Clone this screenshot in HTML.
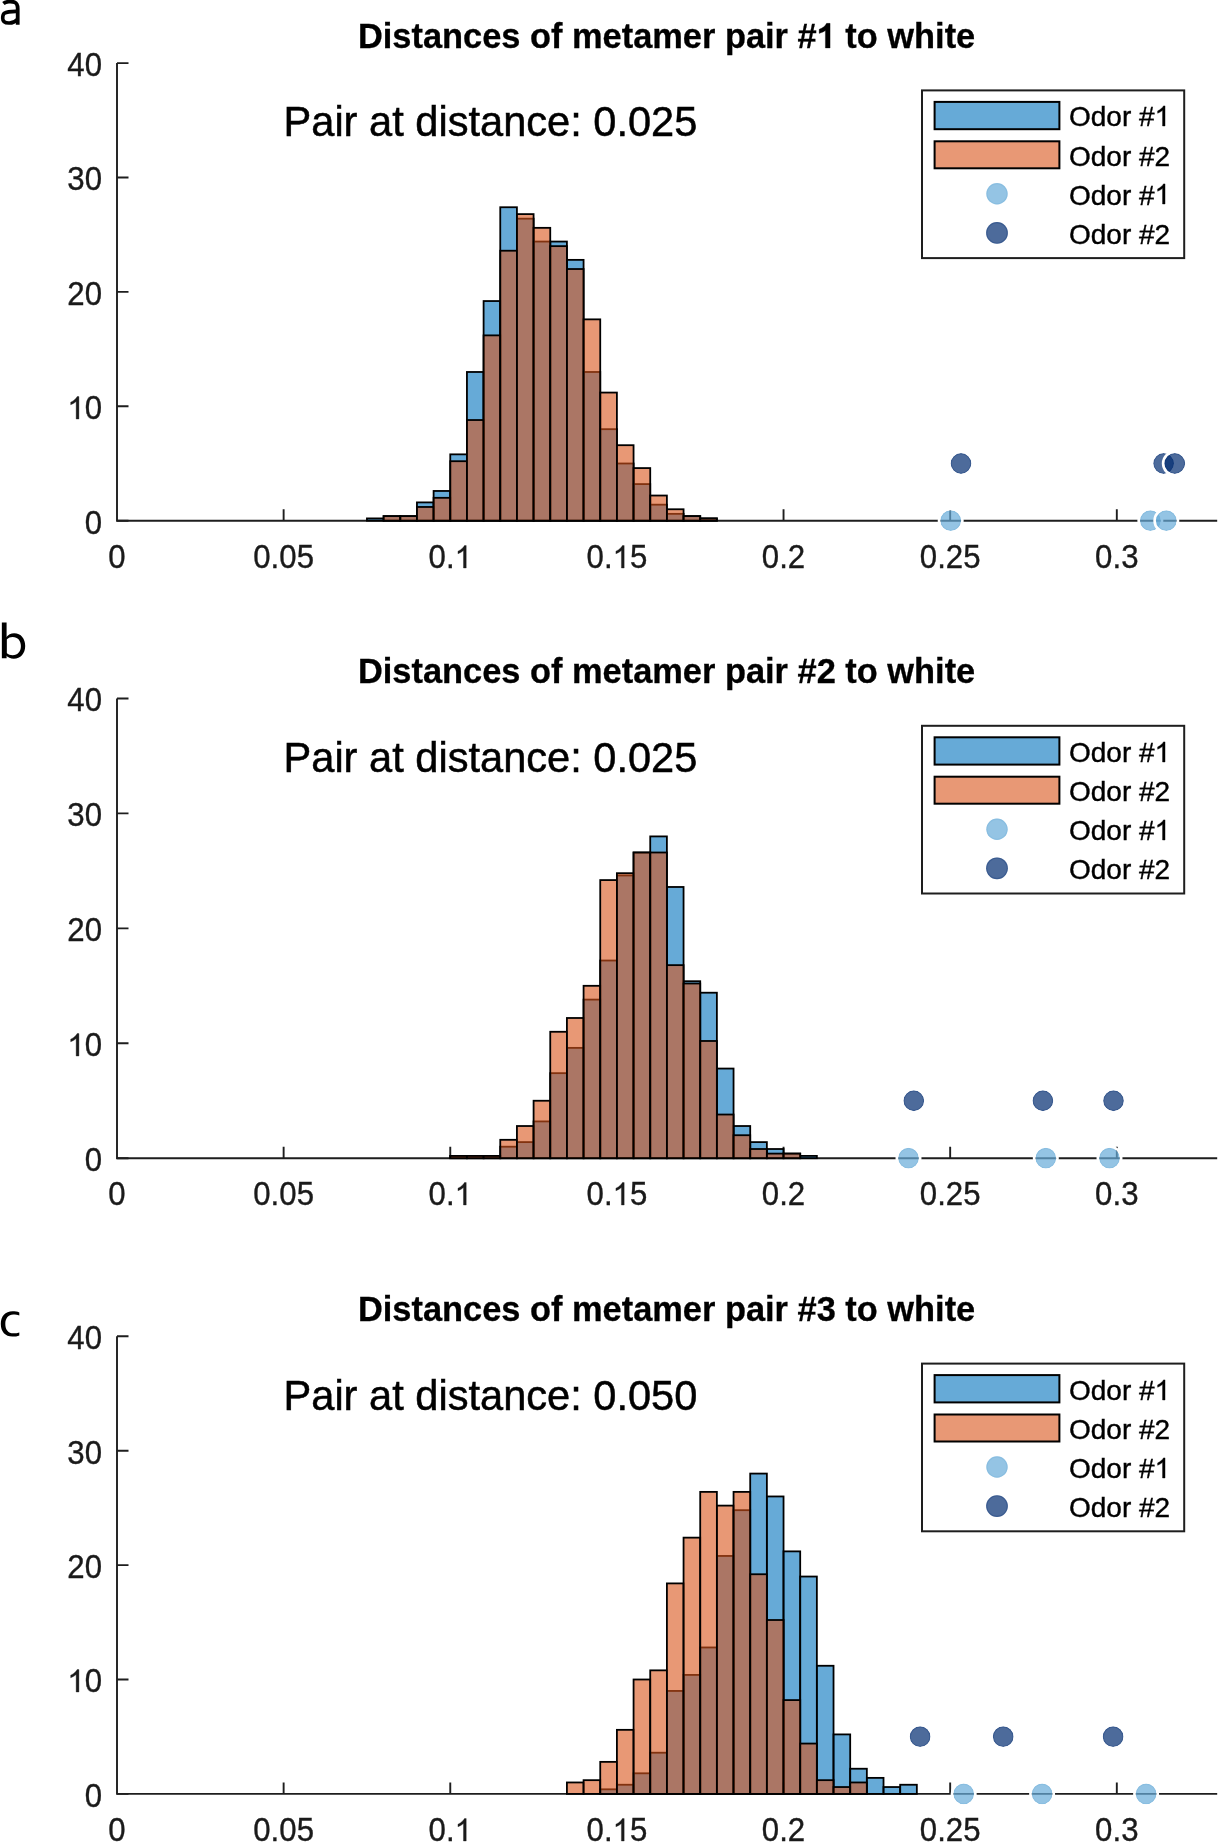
<!DOCTYPE html>
<html><head><meta charset="utf-8"><style>
html,body{margin:0;padding:0;background:#fff;}
svg{display:block;will-change:transform;}
text{font-family:"Liberation Sans",sans-serif;}
.tk{font-size:31.2px;fill:#1a1a1a;stroke:#1a1a1a;stroke-width:0.35px;}
.ti{font-size:34.4px;font-weight:bold;fill:#000;stroke:#000;stroke-width:0.3px;}
.pr{font-size:41.6px;fill:#000;stroke:#000;stroke-width:0.5px;}
.lg{font-size:28px;fill:#000;stroke:#000;stroke-width:0.4px;}
.pl{font-size:47px;fill:#000;}
</style></head><body>
<svg width="1218" height="1842" viewBox="0 0 1218 1842">
<rect width="1218" height="1842" fill="#fff"/>
<path d="M117 63.1V520.7H1217.2" fill="none" stroke="#1e1e1e" stroke-width="1.9"/>
<path d="M117 520.7h11.5 M117 406.3h11.5 M117 291.9h11.5 M117 177.5h11.5 M117 63.1h11.5 M283.63 520.7v-11.5 M450.27 520.7v-11.5 M616.9 520.7v-11.5 M783.54 520.7v-11.5 M950.17 520.7v-11.5 M1116.81 520.7v-11.5" fill="none" stroke="#1e1e1e" stroke-width="1.9"/>
<text x="102" y="533.6" text-anchor="end" class="tk" transform="matrix(1 0 0 1.04 0 -21.34)">0</text>
<text x="102" y="419.2" text-anchor="end" class="tk" transform="matrix(1 0 0 1.04 0 -16.77)"> 0</text>
<text x="102" y="304.8" text-anchor="end" class="tk" transform="matrix(1 0 0 1.04 0 -12.19)">20</text>
<text x="102" y="190.4" text-anchor="end" class="tk" transform="matrix(1 0 0 1.04 0 -7.62)">30</text>
<text x="102" y="76" text-anchor="end" class="tk" transform="matrix(1 0 0 1.04 0 -3.04)">40</text>
<text x="117" y="567.9" text-anchor="middle" class="tk" transform="matrix(1 0 0 1.04 0 -22.72)">0</text>
<text x="283.63" y="567.9" text-anchor="middle" class="tk" transform="matrix(1 0 0 1.04 0 -22.72)">0.05</text>
<text x="450.27" y="567.9" text-anchor="middle" class="tk" transform="matrix(1 0 0 1.04 0 -22.72)">0. </text>
<text x="616.9" y="567.9" text-anchor="middle" class="tk" transform="matrix(1 0 0 1.04 0 -22.72)">0. 5</text>
<text x="783.54" y="567.9" text-anchor="middle" class="tk" transform="matrix(1 0 0 1.04 0 -22.72)">0.2</text>
<text x="950.17" y="567.9" text-anchor="middle" class="tk" transform="matrix(1 0 0 1.04 0 -22.72)">0.25</text>
<text x="1116.81" y="567.9" text-anchor="middle" class="tk" transform="matrix(1 0 0 1.04 0 -22.72)">0.3</text>
<g fill="rgb(0,114,189)" fill-opacity="0.6" stroke="#000" stroke-width="1.8"><rect x="366.95" y="518.41" width="16.66" height="2.29"/><rect x="383.62" y="516.12" width="16.66" height="4.58"/><rect x="400.28" y="516.12" width="16.66" height="4.58"/><rect x="416.94" y="502.4" width="16.66" height="18.3"/><rect x="433.61" y="490.96" width="16.66" height="29.74"/><rect x="450.27" y="454.35" width="16.66" height="66.35"/><rect x="466.93" y="371.98" width="16.66" height="148.72"/><rect x="483.6" y="301.05" width="16.66" height="219.65"/><rect x="500.26" y="207.24" width="16.66" height="313.46"/><rect x="516.92" y="218.68" width="16.66" height="302.02"/><rect x="533.59" y="241.56" width="16.66" height="279.14"/><rect x="550.25" y="241.56" width="16.66" height="279.14"/><rect x="566.91" y="259.87" width="16.66" height="260.83"/><rect x="583.58" y="371.98" width="16.66" height="148.72"/><rect x="600.24" y="429.18" width="16.66" height="91.52"/><rect x="616.9" y="463.5" width="16.66" height="57.2"/><rect x="633.57" y="484.09" width="16.66" height="36.61"/><rect x="650.23" y="504.68" width="16.66" height="16.02"/><rect x="666.9" y="513.84" width="16.66" height="6.86"/><rect x="683.56" y="516.12" width="16.66" height="4.58"/><rect x="700.22" y="518.41" width="16.66" height="2.29"/></g>
<g fill="rgb(217,83,25)" fill-opacity="0.6" stroke="#000" stroke-width="1.8"><rect x="383.62" y="516.12" width="16.66" height="4.58"/><rect x="400.28" y="516.12" width="16.66" height="4.58"/><rect x="416.94" y="506.97" width="16.66" height="13.73"/><rect x="433.61" y="497.82" width="16.66" height="22.88"/><rect x="450.27" y="461.21" width="16.66" height="59.49"/><rect x="466.93" y="420.03" width="16.66" height="100.67"/><rect x="483.6" y="335.37" width="16.66" height="185.33"/><rect x="500.26" y="250.72" width="16.66" height="269.98"/><rect x="516.92" y="214.11" width="16.66" height="306.59"/><rect x="533.59" y="227.84" width="16.66" height="292.86"/><rect x="550.25" y="246.14" width="16.66" height="274.56"/><rect x="566.91" y="269.02" width="16.66" height="251.68"/><rect x="583.58" y="319.36" width="16.66" height="201.34"/><rect x="600.24" y="392.57" width="16.66" height="128.13"/><rect x="616.9" y="445.2" width="16.66" height="75.5"/><rect x="633.57" y="468.08" width="16.66" height="52.62"/><rect x="650.23" y="495.53" width="16.66" height="25.17"/><rect x="666.9" y="509.26" width="16.66" height="11.44"/><rect x="683.56" y="516.12" width="16.66" height="4.58"/><rect x="700.22" y="518.41" width="16.66" height="2.29"/></g>
<circle cx="950.7" cy="520.7" r="10.4" fill="rgb(102,171,216)" fill-opacity="0.7"/><circle cx="950.7" cy="520.7" r="9.8" fill="none" stroke="rgb(102,171,216)" stroke-opacity="0.25" stroke-width="1.1"/><circle cx="950.7" cy="520.7" r="11.7" fill="none" stroke="#fff" stroke-width="2.6"/>
<circle cx="1150.35" cy="520.7" r="10.4" fill="rgb(102,171,216)" fill-opacity="0.7"/><circle cx="1150.35" cy="520.7" r="9.8" fill="none" stroke="rgb(102,171,216)" stroke-opacity="0.25" stroke-width="1.1"/><circle cx="1150.35" cy="520.7" r="11.7" fill="none" stroke="#fff" stroke-width="2.6"/>
<circle cx="1166.3" cy="520.7" r="10.4" fill="rgb(102,171,216)" fill-opacity="0.7"/><circle cx="1166.3" cy="520.7" r="9.8" fill="none" stroke="rgb(102,171,216)" stroke-opacity="0.25" stroke-width="1.1"/><circle cx="1166.3" cy="520.7" r="11.7" fill="none" stroke="#fff" stroke-width="2.6"/>
<circle cx="961" cy="463.5" r="10.4" fill="rgb(2,44,112)" fill-opacity="0.7"/><circle cx="961" cy="463.5" r="9.8" fill="none" stroke="rgb(2,44,112)" stroke-opacity="0.25" stroke-width="1.1"/><circle cx="961" cy="463.5" r="11.7" fill="none" stroke="#fff" stroke-width="2.6"/>
<circle cx="1163.6" cy="463.5" r="10.4" fill="rgb(2,44,112)" fill-opacity="0.7"/><circle cx="1163.6" cy="463.5" r="9.8" fill="none" stroke="rgb(2,44,112)" stroke-opacity="0.25" stroke-width="1.1"/><circle cx="1163.6" cy="463.5" r="11.7" fill="none" stroke="#fff" stroke-width="2.6"/>
<circle cx="1174.8" cy="463.5" r="10.4" fill="rgb(2,44,112)" fill-opacity="0.7"/><circle cx="1174.8" cy="463.5" r="9.8" fill="none" stroke="rgb(2,44,112)" stroke-opacity="0.25" stroke-width="1.1"/><circle cx="1174.8" cy="463.5" r="11.7" fill="none" stroke="#fff" stroke-width="2.6"/>
<text x="666.6" y="47.7" text-anchor="middle" class="ti">Distances of metamer pair #  to white</text>
<text x="283.5" y="136.3" class="pr">Pair at distance: </text><text x="593.30" y="136.0" class="pr" transform="matrix(1 0 0 1.035 0 -4.760)">0.025</text>
<rect x="922" y="90.4" width="262.2" height="167.7" fill="#fff" stroke="#1e1e1e" stroke-width="2"/>
<rect x="934.6" y="101.9" width="124.8" height="27.3" fill="rgb(0,114,189)" fill-opacity="0.6" stroke="#000" stroke-width="2"/>
<rect x="934.6" y="141.3" width="124.8" height="27.0" fill="rgb(217,83,25)" fill-opacity="0.6" stroke="#000" stroke-width="2"/>
<circle cx="997" cy="193.8" r="10.7" fill="rgb(102,171,216)" fill-opacity="0.7"/><circle cx="997" cy="193.8" r="10.1" fill="none" stroke="rgb(102,171,216)" stroke-opacity="0.25" stroke-width="1.1"/>
<circle cx="997" cy="232.9" r="10.9" fill="rgb(2,44,112)" fill-opacity="0.7"/><circle cx="997" cy="232.9" r="10.3" fill="none" stroke="rgb(2,44,112)" stroke-opacity="0.25" stroke-width="1.1"/>
<text x="1069" y="126.4" class="lg">Odor # </text>
<text x="1069" y="165.5" class="lg">Odor #2</text>
<text x="1069" y="204.5" class="lg">Odor # </text>
<text x="1069" y="243.6" class="lg">Odor #2</text>
<g fill="none" stroke="#000"><path d="M3.4 3.6C6 1.5 11 0.9 14.6 2.2C16.9 3.1 17.7 5.2 17.7 8.6V24.7" stroke-width="3.8"/><path d="M17.6 11.4C12.5 11.3 7 11.5 4.3 13.3C2.9 14.3 2.7 16.4 2.7 18.2C2.7 21.4 5.2 23 8.8 23C12.4 23.2 15.4 21.6 17.6 19.2" stroke-width="3.6"/></g>
<path d="M117 698.5V1158.2H1217.2" fill="none" stroke="#1e1e1e" stroke-width="1.9"/>
<path d="M117 1158.2h11.5 M117 1043.28h11.5 M117 928.35h11.5 M117 813.42h11.5 M117 698.5h11.5 M283.63 1158.2v-11.5 M450.27 1158.2v-11.5 M616.9 1158.2v-11.5 M783.54 1158.2v-11.5 M950.17 1158.2v-11.5 M1116.81 1158.2v-11.5" fill="none" stroke="#1e1e1e" stroke-width="1.9"/>
<text x="102" y="1171.1" text-anchor="end" class="tk" transform="matrix(1 0 0 1.04 0 -46.84)">0</text>
<text x="102" y="1056.18" text-anchor="end" class="tk" transform="matrix(1 0 0 1.04 0 -42.25)"> 0</text>
<text x="102" y="941.25" text-anchor="end" class="tk" transform="matrix(1 0 0 1.04 0 -37.65)">20</text>
<text x="102" y="826.32" text-anchor="end" class="tk" transform="matrix(1 0 0 1.04 0 -33.05)">30</text>
<text x="102" y="711.4" text-anchor="end" class="tk" transform="matrix(1 0 0 1.04 0 -28.46)">40</text>
<text x="117" y="1205.4" text-anchor="middle" class="tk" transform="matrix(1 0 0 1.04 0 -48.22)">0</text>
<text x="283.63" y="1205.4" text-anchor="middle" class="tk" transform="matrix(1 0 0 1.04 0 -48.22)">0.05</text>
<text x="450.27" y="1205.4" text-anchor="middle" class="tk" transform="matrix(1 0 0 1.04 0 -48.22)">0. </text>
<text x="616.9" y="1205.4" text-anchor="middle" class="tk" transform="matrix(1 0 0 1.04 0 -48.22)">0. 5</text>
<text x="783.54" y="1205.4" text-anchor="middle" class="tk" transform="matrix(1 0 0 1.04 0 -48.22)">0.2</text>
<text x="950.17" y="1205.4" text-anchor="middle" class="tk" transform="matrix(1 0 0 1.04 0 -48.22)">0.25</text>
<text x="1116.81" y="1205.4" text-anchor="middle" class="tk" transform="matrix(1 0 0 1.04 0 -48.22)">0.3</text>
<g fill="rgb(0,114,189)" fill-opacity="0.6" stroke="#000" stroke-width="1.8"><rect x="450.27" y="1155.9" width="16.66" height="2.3"/><rect x="466.93" y="1155.9" width="16.66" height="2.3"/><rect x="483.6" y="1155.9" width="16.66" height="2.3"/><rect x="500.26" y="1146.71" width="16.66" height="11.49"/><rect x="516.92" y="1142.11" width="16.66" height="16.09"/><rect x="533.59" y="1121.42" width="16.66" height="36.78"/><rect x="550.25" y="1073.16" width="16.66" height="85.04"/><rect x="566.91" y="1047.87" width="16.66" height="110.33"/><rect x="583.58" y="999.6" width="16.66" height="158.6"/><rect x="600.24" y="960.53" width="16.66" height="197.67"/><rect x="616.9" y="875.48" width="16.66" height="282.72"/><rect x="633.57" y="852.5" width="16.66" height="305.7"/><rect x="650.23" y="836.41" width="16.66" height="321.79"/><rect x="666.9" y="886.98" width="16.66" height="271.22"/><rect x="683.56" y="981.22" width="16.66" height="176.98"/><rect x="700.22" y="992.71" width="16.66" height="165.49"/><rect x="716.89" y="1068.56" width="16.66" height="89.64"/><rect x="733.55" y="1126.02" width="16.66" height="32.18"/><rect x="750.21" y="1142.11" width="16.66" height="16.09"/><rect x="766.88" y="1149.01" width="16.66" height="9.19"/><rect x="783.54" y="1153.6" width="16.66" height="4.6"/><rect x="800.2" y="1155.9" width="16.66" height="2.3"/></g>
<g fill="rgb(217,83,25)" fill-opacity="0.6" stroke="#000" stroke-width="1.8"><rect x="450.27" y="1155.9" width="16.66" height="2.3"/><rect x="466.93" y="1155.9" width="16.66" height="2.3"/><rect x="483.6" y="1155.9" width="16.66" height="2.3"/><rect x="500.26" y="1139.81" width="16.66" height="18.39"/><rect x="516.92" y="1126.02" width="16.66" height="32.18"/><rect x="533.59" y="1100.74" width="16.66" height="57.46"/><rect x="550.25" y="1031.78" width="16.66" height="126.42"/><rect x="566.91" y="1017.99" width="16.66" height="140.21"/><rect x="583.58" y="985.81" width="16.66" height="172.39"/><rect x="600.24" y="880.08" width="16.66" height="278.12"/><rect x="616.9" y="873.19" width="16.66" height="285.01"/><rect x="633.57" y="852.5" width="16.66" height="305.7"/><rect x="650.23" y="852.5" width="16.66" height="305.7"/><rect x="666.9" y="965.13" width="16.66" height="193.07"/><rect x="683.56" y="983.51" width="16.66" height="174.69"/><rect x="700.22" y="1040.98" width="16.66" height="117.22"/><rect x="716.89" y="1114.53" width="16.66" height="43.67"/><rect x="733.55" y="1135.22" width="16.66" height="22.99"/><rect x="750.21" y="1149.01" width="16.66" height="9.19"/><rect x="766.88" y="1153.6" width="16.66" height="4.6"/><rect x="783.54" y="1153.6" width="16.66" height="4.6"/></g>
<circle cx="908.5" cy="1158.2" r="10.4" fill="rgb(102,171,216)" fill-opacity="0.7"/><circle cx="908.5" cy="1158.2" r="9.8" fill="none" stroke="rgb(102,171,216)" stroke-opacity="0.25" stroke-width="1.1"/><circle cx="908.5" cy="1158.2" r="11.7" fill="none" stroke="#fff" stroke-width="2.6"/>
<circle cx="1045.8" cy="1158.2" r="10.4" fill="rgb(102,171,216)" fill-opacity="0.7"/><circle cx="1045.8" cy="1158.2" r="9.8" fill="none" stroke="rgb(102,171,216)" stroke-opacity="0.25" stroke-width="1.1"/><circle cx="1045.8" cy="1158.2" r="11.7" fill="none" stroke="#fff" stroke-width="2.6"/>
<circle cx="1109.5" cy="1158.2" r="10.4" fill="rgb(102,171,216)" fill-opacity="0.7"/><circle cx="1109.5" cy="1158.2" r="9.8" fill="none" stroke="rgb(102,171,216)" stroke-opacity="0.25" stroke-width="1.1"/><circle cx="1109.5" cy="1158.2" r="11.7" fill="none" stroke="#fff" stroke-width="2.6"/>
<circle cx="913.8" cy="1100.74" r="10.4" fill="rgb(2,44,112)" fill-opacity="0.7"/><circle cx="913.8" cy="1100.74" r="9.8" fill="none" stroke="rgb(2,44,112)" stroke-opacity="0.25" stroke-width="1.1"/><circle cx="913.8" cy="1100.74" r="11.7" fill="none" stroke="#fff" stroke-width="2.6"/>
<circle cx="1042.9" cy="1100.74" r="10.4" fill="rgb(2,44,112)" fill-opacity="0.7"/><circle cx="1042.9" cy="1100.74" r="9.8" fill="none" stroke="rgb(2,44,112)" stroke-opacity="0.25" stroke-width="1.1"/><circle cx="1042.9" cy="1100.74" r="11.7" fill="none" stroke="#fff" stroke-width="2.6"/>
<circle cx="1113.5" cy="1100.74" r="10.4" fill="rgb(2,44,112)" fill-opacity="0.7"/><circle cx="1113.5" cy="1100.74" r="9.8" fill="none" stroke="rgb(2,44,112)" stroke-opacity="0.25" stroke-width="1.1"/><circle cx="1113.5" cy="1100.74" r="11.7" fill="none" stroke="#fff" stroke-width="2.6"/>
<text x="666.6" y="683.1" text-anchor="middle" class="ti">Distances of metamer pair #2 to white</text>
<text x="283.5" y="771.7" class="pr">Pair at distance: </text><text x="593.30" y="772.0" class="pr" transform="matrix(1 0 0 1.035 0 -27.020)">0.025</text>
<rect x="922" y="725.8" width="262.2" height="167.7" fill="#fff" stroke="#1e1e1e" stroke-width="2"/>
<rect x="934.6" y="737.3" width="124.8" height="27.3" fill="rgb(0,114,189)" fill-opacity="0.6" stroke="#000" stroke-width="2"/>
<rect x="934.6" y="776.7" width="124.8" height="27.0" fill="rgb(217,83,25)" fill-opacity="0.6" stroke="#000" stroke-width="2"/>
<circle cx="997" cy="829.2" r="10.7" fill="rgb(102,171,216)" fill-opacity="0.7"/><circle cx="997" cy="829.2" r="10.1" fill="none" stroke="rgb(102,171,216)" stroke-opacity="0.25" stroke-width="1.1"/>
<circle cx="997" cy="868.3" r="10.9" fill="rgb(2,44,112)" fill-opacity="0.7"/><circle cx="997" cy="868.3" r="10.3" fill="none" stroke="rgb(2,44,112)" stroke-opacity="0.25" stroke-width="1.1"/>
<text x="1069" y="761.8" class="lg">Odor # </text>
<text x="1069" y="800.9" class="lg">Odor #2</text>
<text x="1069" y="839.9" class="lg">Odor # </text>
<text x="1069" y="879" class="lg">Odor #2</text>
<path d="M1.85 622.6h4.75v35.6h-4.75z"/><path fill-rule="evenodd" d="M6.0 637.5C8 634.8 11 633.3 14.2 633.3C21 633.3 25.2 638.8 25.2 645.9C25.2 653.4 20.4 658.7 13.8 658.7C10.5 658.7 8 657.7 6.0 655.6ZM6.6 639.4C8.4 637.7 10.4 636.9 12.6 636.9C17.9 636.9 20.9 640.8 20.9 646.1C20.9 651.6 17.9 655.2 12.6 655.2C10.4 655.2 8.4 654.5 6.6 653Z"/>
<path d="M117 1336.3V1793.9H1217.2" fill="none" stroke="#1e1e1e" stroke-width="1.9"/>
<path d="M117 1793.9h11.5 M117 1679.5h11.5 M117 1565.1h11.5 M117 1450.7h11.5 M117 1336.3h11.5 M283.63 1793.9v-11.5 M450.27 1793.9v-11.5 M616.9 1793.9v-11.5 M783.54 1793.9v-11.5 M950.17 1793.9v-11.5 M1116.81 1793.9v-11.5" fill="none" stroke="#1e1e1e" stroke-width="1.9"/>
<text x="102" y="1806.8" text-anchor="end" class="tk" transform="matrix(1 0 0 1.04 0 -72.27)">0</text>
<text x="102" y="1692.4" text-anchor="end" class="tk" transform="matrix(1 0 0 1.04 0 -67.7)"> 0</text>
<text x="102" y="1578" text-anchor="end" class="tk" transform="matrix(1 0 0 1.04 0 -63.12)">20</text>
<text x="102" y="1463.6" text-anchor="end" class="tk" transform="matrix(1 0 0 1.04 0 -58.54)">30</text>
<text x="102" y="1349.2" text-anchor="end" class="tk" transform="matrix(1 0 0 1.04 0 -53.97)">40</text>
<text x="117" y="1841.1" text-anchor="middle" class="tk" transform="matrix(1 0 0 1.04 0 -73.64)">0</text>
<text x="283.63" y="1841.1" text-anchor="middle" class="tk" transform="matrix(1 0 0 1.04 0 -73.64)">0.05</text>
<text x="450.27" y="1841.1" text-anchor="middle" class="tk" transform="matrix(1 0 0 1.04 0 -73.64)">0. </text>
<text x="616.9" y="1841.1" text-anchor="middle" class="tk" transform="matrix(1 0 0 1.04 0 -73.64)">0. 5</text>
<text x="783.54" y="1841.1" text-anchor="middle" class="tk" transform="matrix(1 0 0 1.04 0 -73.64)">0.2</text>
<text x="950.17" y="1841.1" text-anchor="middle" class="tk" transform="matrix(1 0 0 1.04 0 -73.64)">0.25</text>
<text x="1116.81" y="1841.1" text-anchor="middle" class="tk" transform="matrix(1 0 0 1.04 0 -73.64)">0.3</text>
<g fill="rgb(0,114,189)" fill-opacity="0.6" stroke="#000" stroke-width="1.8"><rect x="600.24" y="1789.32" width="16.66" height="4.58"/><rect x="616.9" y="1784.75" width="16.66" height="9.15"/><rect x="633.57" y="1773.31" width="16.66" height="20.59"/><rect x="650.23" y="1752.72" width="16.66" height="41.18"/><rect x="666.9" y="1690.94" width="16.66" height="102.96"/><rect x="683.56" y="1674.92" width="16.66" height="118.98"/><rect x="700.22" y="1647.47" width="16.66" height="146.43"/><rect x="716.89" y="1555.95" width="16.66" height="237.95"/><rect x="733.55" y="1510.19" width="16.66" height="283.71"/><rect x="750.21" y="1473.58" width="16.66" height="320.32"/><rect x="766.88" y="1496.46" width="16.66" height="297.44"/><rect x="783.54" y="1551.37" width="16.66" height="242.53"/><rect x="800.2" y="1576.54" width="16.66" height="217.36"/><rect x="816.87" y="1665.77" width="16.66" height="128.13"/><rect x="833.53" y="1734.41" width="16.66" height="59.49"/><rect x="850.19" y="1768.73" width="16.66" height="25.17"/><rect x="866.86" y="1777.88" width="16.66" height="16.02"/><rect x="883.52" y="1787.04" width="16.66" height="6.86"/><rect x="900.18" y="1784.75" width="16.66" height="9.15"/></g>
<g fill="rgb(217,83,25)" fill-opacity="0.6" stroke="#000" stroke-width="1.8"><rect x="566.91" y="1782.46" width="16.66" height="11.44"/><rect x="583.58" y="1780.17" width="16.66" height="13.73"/><rect x="600.24" y="1761.87" width="16.66" height="32.03"/><rect x="616.9" y="1729.84" width="16.66" height="64.06"/><rect x="633.57" y="1679.5" width="16.66" height="114.4"/><rect x="650.23" y="1670.35" width="16.66" height="123.55"/><rect x="666.9" y="1583.4" width="16.66" height="210.5"/><rect x="683.56" y="1537.64" width="16.66" height="256.26"/><rect x="700.22" y="1491.88" width="16.66" height="302.02"/><rect x="716.89" y="1505.61" width="16.66" height="288.29"/><rect x="733.55" y="1491.88" width="16.66" height="302.02"/><rect x="750.21" y="1574.25" width="16.66" height="219.65"/><rect x="766.88" y="1620.01" width="16.66" height="173.89"/><rect x="783.54" y="1700.09" width="16.66" height="93.81"/><rect x="800.2" y="1743.56" width="16.66" height="50.34"/><rect x="816.87" y="1780.17" width="16.66" height="13.73"/><rect x="833.53" y="1787.04" width="16.66" height="6.86"/><rect x="850.19" y="1782.46" width="16.66" height="11.44"/></g>
<circle cx="963.7" cy="1793.9" r="10.4" fill="rgb(102,171,216)" fill-opacity="0.7"/><circle cx="963.7" cy="1793.9" r="9.8" fill="none" stroke="rgb(102,171,216)" stroke-opacity="0.25" stroke-width="1.1"/><circle cx="963.7" cy="1793.9" r="11.7" fill="none" stroke="#fff" stroke-width="2.6"/>
<circle cx="1042.1" cy="1793.9" r="10.4" fill="rgb(102,171,216)" fill-opacity="0.7"/><circle cx="1042.1" cy="1793.9" r="9.8" fill="none" stroke="rgb(102,171,216)" stroke-opacity="0.25" stroke-width="1.1"/><circle cx="1042.1" cy="1793.9" r="11.7" fill="none" stroke="#fff" stroke-width="2.6"/>
<circle cx="1146.1" cy="1793.9" r="10.4" fill="rgb(102,171,216)" fill-opacity="0.7"/><circle cx="1146.1" cy="1793.9" r="9.8" fill="none" stroke="rgb(102,171,216)" stroke-opacity="0.25" stroke-width="1.1"/><circle cx="1146.1" cy="1793.9" r="11.7" fill="none" stroke="#fff" stroke-width="2.6"/>
<circle cx="920.1" cy="1736.7" r="10.4" fill="rgb(2,44,112)" fill-opacity="0.7"/><circle cx="920.1" cy="1736.7" r="9.8" fill="none" stroke="rgb(2,44,112)" stroke-opacity="0.25" stroke-width="1.1"/><circle cx="920.1" cy="1736.7" r="11.7" fill="none" stroke="#fff" stroke-width="2.6"/>
<circle cx="1003.2" cy="1736.7" r="10.4" fill="rgb(2,44,112)" fill-opacity="0.7"/><circle cx="1003.2" cy="1736.7" r="9.8" fill="none" stroke="rgb(2,44,112)" stroke-opacity="0.25" stroke-width="1.1"/><circle cx="1003.2" cy="1736.7" r="11.7" fill="none" stroke="#fff" stroke-width="2.6"/>
<circle cx="1113.1" cy="1736.7" r="10.4" fill="rgb(2,44,112)" fill-opacity="0.7"/><circle cx="1113.1" cy="1736.7" r="9.8" fill="none" stroke="rgb(2,44,112)" stroke-opacity="0.25" stroke-width="1.1"/><circle cx="1113.1" cy="1736.7" r="11.7" fill="none" stroke="#fff" stroke-width="2.6"/>
<text x="666.6" y="1320.9" text-anchor="middle" class="ti">Distances of metamer pair #3 to white</text>
<text x="283.5" y="1409.5" class="pr">Pair at distance: </text><text x="593.30" y="1410.0" class="pr" transform="matrix(1 0 0 1.035 0 -49.350)">0.050</text>
<rect x="922" y="1363.6" width="262.2" height="167.7" fill="#fff" stroke="#1e1e1e" stroke-width="2"/>
<rect x="934.6" y="1375.1" width="124.8" height="27.3" fill="rgb(0,114,189)" fill-opacity="0.6" stroke="#000" stroke-width="2"/>
<rect x="934.6" y="1414.5" width="124.8" height="27.0" fill="rgb(217,83,25)" fill-opacity="0.6" stroke="#000" stroke-width="2"/>
<circle cx="997" cy="1467" r="10.7" fill="rgb(102,171,216)" fill-opacity="0.7"/><circle cx="997" cy="1467" r="10.1" fill="none" stroke="rgb(102,171,216)" stroke-opacity="0.25" stroke-width="1.1"/>
<circle cx="997" cy="1506.1" r="10.9" fill="rgb(2,44,112)" fill-opacity="0.7"/><circle cx="997" cy="1506.1" r="10.3" fill="none" stroke="rgb(2,44,112)" stroke-opacity="0.25" stroke-width="1.1"/>
<text x="1069" y="1399.6" class="lg">Odor # </text>
<text x="1069" y="1438.7" class="lg">Odor #2</text>
<text x="1069" y="1477.7" class="lg">Odor # </text>
<text x="1069" y="1516.8" class="lg">Odor #2</text>
<path d="M19.3 1312.4C17.3 1311.6 15 1311.3 12.6 1311.3C5.2 1311.3 0.8 1316.4 0.8 1324C0.8 1331.6 5.2 1336.6 12.4 1336.6C15 1336.6 17.4 1336.2 19.3 1335.4L19.3 1332.4C17.6 1333 15.6 1333.3 13.4 1333.3C8.3 1333.3 5.3 1329.8 5.3 1324C5.3 1318.2 8.5 1314.6 13.2 1314.6C15.6 1314.6 17.6 1315 19.3 1315.5Z"/>
<path transform="matrix(0.01523 0 0 -0.01523 67.29 419.00)" fill="rgb(26, 26, 26)" stroke="rgb(26, 26, 26)" stroke-width="23.0" d="M763 0L583 0L583 1147C500 1070 380 1000 223 935L223 1104C330 1150 430 1215 510 1295C580 1362 625 1420 647 1472L763 1472Z"/>
<path transform="matrix(0.01523 0 0 -0.01523 454.59 568.00)" fill="rgb(26, 26, 26)" stroke="rgb(26, 26, 26)" stroke-width="23.0" d="M763 0L583 0L583 1147C500 1070 380 1000 223 935L223 1104C330 1150 430 1215 510 1295C580 1362 625 1420 647 1472L763 1472Z"/>
<path transform="matrix(0.01523 0 0 -0.01523 612.54 568.00)" fill="rgb(26, 26, 26)" stroke="rgb(26, 26, 26)" stroke-width="23.0" d="M763 0L583 0L583 1147C500 1070 380 1000 223 935L223 1104C330 1150 430 1215 510 1295C580 1362 625 1420 647 1472L763 1472Z"/>
<path transform="matrix(0.01680 0 0 -0.01680 816.65 48.00)" fill="rgb(0, 0, 0)" stroke="rgb(0, 0, 0)" stroke-width="17.9" d="M800 0L520 0L520 1040C420 960 290 905 150 868L150 1115C240 1145 340 1200 430 1270C510 1335 560 1400 590 1466L800 1466Z"/>
<path transform="matrix(0.01367 0 0 -0.01367 1154.59 126.00)" fill="rgb(0, 0, 0)" stroke="rgb(0, 0, 0)" stroke-width="29.3" d="M763 0L583 0L583 1147C500 1070 380 1000 223 935L223 1104C330 1150 430 1215 510 1295C580 1362 625 1420 647 1472L763 1472Z"/>
<path transform="matrix(0.01367 0 0 -0.01367 1154.59 204.00)" fill="rgb(0, 0, 0)" stroke="rgb(0, 0, 0)" stroke-width="29.3" d="M763 0L583 0L583 1147C500 1070 380 1000 223 935L223 1104C330 1150 430 1215 510 1295C580 1362 625 1420 647 1472L763 1472Z"/>
<path transform="matrix(0.01523 0 0 -0.01523 67.29 1056.00)" fill="rgb(26, 26, 26)" stroke="rgb(26, 26, 26)" stroke-width="23.0" d="M763 0L583 0L583 1147C500 1070 380 1000 223 935L223 1104C330 1150 430 1215 510 1295C580 1362 625 1420 647 1472L763 1472Z"/>
<path transform="matrix(0.01523 0 0 -0.01523 454.59 1205.00)" fill="rgb(26, 26, 26)" stroke="rgb(26, 26, 26)" stroke-width="23.0" d="M763 0L583 0L583 1147C500 1070 380 1000 223 935L223 1104C330 1150 430 1215 510 1295C580 1362 625 1420 647 1472L763 1472Z"/>
<path transform="matrix(0.01523 0 0 -0.01523 612.54 1205.00)" fill="rgb(26, 26, 26)" stroke="rgb(26, 26, 26)" stroke-width="23.0" d="M763 0L583 0L583 1147C500 1070 380 1000 223 935L223 1104C330 1150 430 1215 510 1295C580 1362 625 1420 647 1472L763 1472Z"/>
<path transform="matrix(0.01367 0 0 -0.01367 1154.59 762.00)" fill="rgb(0, 0, 0)" stroke="rgb(0, 0, 0)" stroke-width="29.3" d="M763 0L583 0L583 1147C500 1070 380 1000 223 935L223 1104C330 1150 430 1215 510 1295C580 1362 625 1420 647 1472L763 1472Z"/>
<path transform="matrix(0.01367 0 0 -0.01367 1154.59 840.00)" fill="rgb(0, 0, 0)" stroke="rgb(0, 0, 0)" stroke-width="29.3" d="M763 0L583 0L583 1147C500 1070 380 1000 223 935L223 1104C330 1150 430 1215 510 1295C580 1362 625 1420 647 1472L763 1472Z"/>
<path transform="matrix(0.01523 0 0 -0.01523 67.29 1692.00)" fill="rgb(26, 26, 26)" stroke="rgb(26, 26, 26)" stroke-width="23.0" d="M763 0L583 0L583 1147C500 1070 380 1000 223 935L223 1104C330 1150 430 1215 510 1295C580 1362 625 1420 647 1472L763 1472Z"/>
<path transform="matrix(0.01523 0 0 -0.01523 454.59 1841.00)" fill="rgb(26, 26, 26)" stroke="rgb(26, 26, 26)" stroke-width="23.0" d="M763 0L583 0L583 1147C500 1070 380 1000 223 935L223 1104C330 1150 430 1215 510 1295C580 1362 625 1420 647 1472L763 1472Z"/>
<path transform="matrix(0.01523 0 0 -0.01523 612.54 1841.00)" fill="rgb(26, 26, 26)" stroke="rgb(26, 26, 26)" stroke-width="23.0" d="M763 0L583 0L583 1147C500 1070 380 1000 223 935L223 1104C330 1150 430 1215 510 1295C580 1362 625 1420 647 1472L763 1472Z"/>
<path transform="matrix(0.01367 0 0 -0.01367 1154.59 1400.00)" fill="rgb(0, 0, 0)" stroke="rgb(0, 0, 0)" stroke-width="29.3" d="M763 0L583 0L583 1147C500 1070 380 1000 223 935L223 1104C330 1150 430 1215 510 1295C580 1362 625 1420 647 1472L763 1472Z"/>
<path transform="matrix(0.01367 0 0 -0.01367 1154.59 1478.00)" fill="rgb(0, 0, 0)" stroke="rgb(0, 0, 0)" stroke-width="29.3" d="M763 0L583 0L583 1147C500 1070 380 1000 223 935L223 1104C330 1150 430 1215 510 1295C580 1362 625 1420 647 1472L763 1472Z"/>
</svg>
</body></html>
